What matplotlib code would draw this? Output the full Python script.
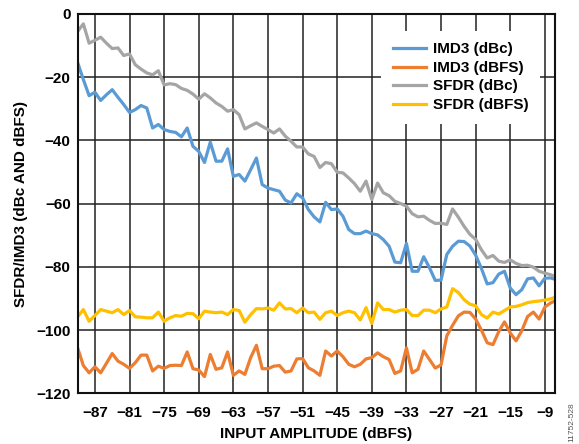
import numpy as np
import matplotlib
matplotlib.use("Agg")
import matplotlib.pyplot as plt

# input amplitude sweep (dBFS), 1 dB steps
input_dbfs = np.arange(-90, -6, 1)

# IMD3 (dBc)
imd3_dbc = [
    -15.4, -20.8, -25.9, -24.8, -27.4, -25.6, -24.0, -26.4, -28.7, -31.2,
    -30.3, -29.0, -29.8, -36.1, -35.0, -36.6, -37.2, -37.5, -38.9, -36.1,
    -41.9, -43.5, -47.0, -40.6, -46.6, -46.6, -42.7, -51.4, -50.8, -52.9,
    -49.3, -45.6, -54.0, -55.1, -55.6, -56.1, -58.9, -59.8, -56.9, -58.2,
    -61.9, -64.2, -65.8, -59.6, -61.9, -61.7, -64.0, -68.2, -69.5, -69.5,
    -68.7, -69.5, -69.9, -71.4, -73.5, -78.5, -78.7, -72.6, -81.4, -81.4,
    -76.8, -80.3, -84.3, -84.2, -76.1, -73.5, -71.9, -72.0, -73.4, -76.3,
    -80.5, -85.4, -85.0, -82.3, -81.4, -86.7, -88.8, -87.2, -83.8, -83.5,
    -86.0, -83.6, -83.5, -84.1,
]

# IMD3 (dBFS)
imd3_dbfs = [
    -105.6, -111.2, -113.5, -111.6, -113.5, -110.5, -107.4, -109.8, -110.8, -112.1,
    -110.3, -107.9, -107.9, -112.9, -111.4, -112.1, -111.2, -111.1, -111.2, -106.9,
    -112.2, -112.6, -114.7, -107.7, -112.4, -111.9, -106.9, -114.3, -112.9, -114.0,
    -108.7, -104.8, -112.2, -112.2, -111.4, -111.2, -113.3, -112.9, -109.1, -109.0,
    -111.9, -112.9, -114.3, -106.6, -108.2, -106.6, -108.4, -110.8, -111.6, -110.8,
    -109.1, -108.7, -107.2, -108.4, -109.3, -113.7, -112.9, -105.6, -113.5, -112.4,
    -106.6, -109.3, -112.0, -111.0, -101.8, -98.5, -95.5, -94.3, -94.4, -96.5,
    -100.0, -104.0, -104.6, -100.5, -97.4, -100.9, -103.4, -100.2, -95.7, -94.3,
    -96.5, -92.7, -91.4, -90.6,
]

# SFDR (dBc)
sfdr_dbc = [
    -5.6, -3.2, -9.3, -8.4, -7.4, -9.3, -11.0, -10.8, -13.2, -12.7,
    -16.1, -17.5, -18.7, -19.3, -18.0, -22.5, -22.1, -22.4, -23.6, -24.2,
    -25.4, -27.0, -25.3, -26.6, -28.2, -29.3, -30.8, -30.3, -31.9, -36.4,
    -35.4, -34.5, -35.6, -36.6, -37.7, -36.4, -38.7, -40.3, -42.1, -42.1,
    -44.3, -45.1, -48.6, -47.0, -47.4, -50.1, -50.3, -51.9, -53.7, -56.1,
    -52.9, -58.7, -53.5, -56.6, -57.5, -59.3, -60.0, -60.8, -63.2, -64.2,
    -64.0, -65.3, -66.3, -66.2, -66.6, -61.7, -64.3, -67.2, -69.7, -71.3,
    -74.6, -77.2, -76.4, -78.2, -78.6, -77.8, -78.9, -79.6, -79.5, -80.1,
    -81.4, -82.0, -82.5, -83.2,
]

# SFDR (dBFS)
sfdr_dbfs = [
    -95.8, -93.5, -97.2, -95.4, -93.5, -94.0, -94.5, -93.5, -95.1, -93.8,
    -95.8, -95.9, -96.1, -96.1, -94.3, -97.2, -96.1, -95.4, -95.6, -94.7,
    -94.8, -96.4, -94.0, -94.3, -94.5, -94.3, -95.1, -93.5, -93.8, -97.5,
    -95.1, -93.2, -93.3, -93.0, -93.7, -91.4, -93.3, -93.2, -94.5, -93.0,
    -94.5, -94.3, -96.6, -94.5, -94.0, -95.4, -94.5, -94.0, -94.5, -96.8,
    -92.9, -97.9, -91.4, -93.5, -93.5, -94.3, -93.7, -93.5, -95.4, -95.4,
    -93.7, -93.7, -94.5, -93.3, -92.7, -86.9, -88.1, -90.4, -91.8, -92.3,
    -95.1, -96.2, -94.3, -94.9, -93.8, -92.7, -92.5, -92.0, -91.3, -91.0,
    -90.8, -90.5, -90.1, -89.5,
]

x_ticks = np.arange(-87, -8, 6)
y_ticks = np.arange(-120, 1, 20)

plt.rcParams['font.family'] = ['Liberation Sans', 'DejaVu Sans']
plt.rcParams['font.weight'] = 'bold'
plt.rcParams['font.size'] = 11

fig = plt.figure(figsize=(5.79, 4.44), dpi=100)
ax = fig.add_axes([0.134, 0.114, 0.824, 0.855])

lw = 2.3
ax.plot(input_dbfs, imd3_dbc, color='#5B9BD5', lw=lw, label='IMD3 (dBc)')
ax.plot(input_dbfs, imd3_dbfs, color='#ED7D31', lw=lw, label='IMD3 (dBFS)')
ax.plot(input_dbfs, sfdr_dbc, color='#A5A5A5', lw=lw, label='SFDR (dBc)')
ax.plot(input_dbfs, sfdr_dbfs, color='#FFC000', lw=lw, label='SFDR (dBFS)')

ax.set_xlim(-90, -7.3)
ax.set_ylim(-120, 0)
ax.set_xticks(x_ticks)
ax.set_yticks(y_ticks)
ax.tick_params(length=0, labelsize=11)
ax.tick_params(axis='x', pad=9)
ax.tick_params(axis='y', pad=5)

# dark grid at every tick
ax.grid(True, color='#222222', lw=1.1)
ax.set_axisbelow(True)
for sp in ax.spines.values():
    sp.set_linewidth(1.5)
    sp.set_color('#111111')

ax.set_xlabel('INPUT AMPLITUDE (dBFS)', fontsize=11, fontweight='bold', labelpad=5)
ax.set_ylabel('SFDR/IMD3 (dBc AND dBFS)', fontsize=11, fontweight='bold', labelpad=6)

# white legend box that hides the grid behind it
leg = ax.legend(loc='upper right', bbox_to_anchor=(0.97, 0.955), borderaxespad=0,
                frameon=True, fancybox=False, framealpha=1, edgecolor='none',
                handlelength=2.15, handletextpad=0.5, labelspacing=0.3,
                borderpad=0.75, fontsize=11)
leg.get_frame().set_facecolor('white')

fig.text(0.988, 0.005, '11752-528', rotation=90, fontsize=6, fontweight='normal',
         color='#555555', ha='center', va='bottom')

plt.savefig('out.png', dpi=100)
